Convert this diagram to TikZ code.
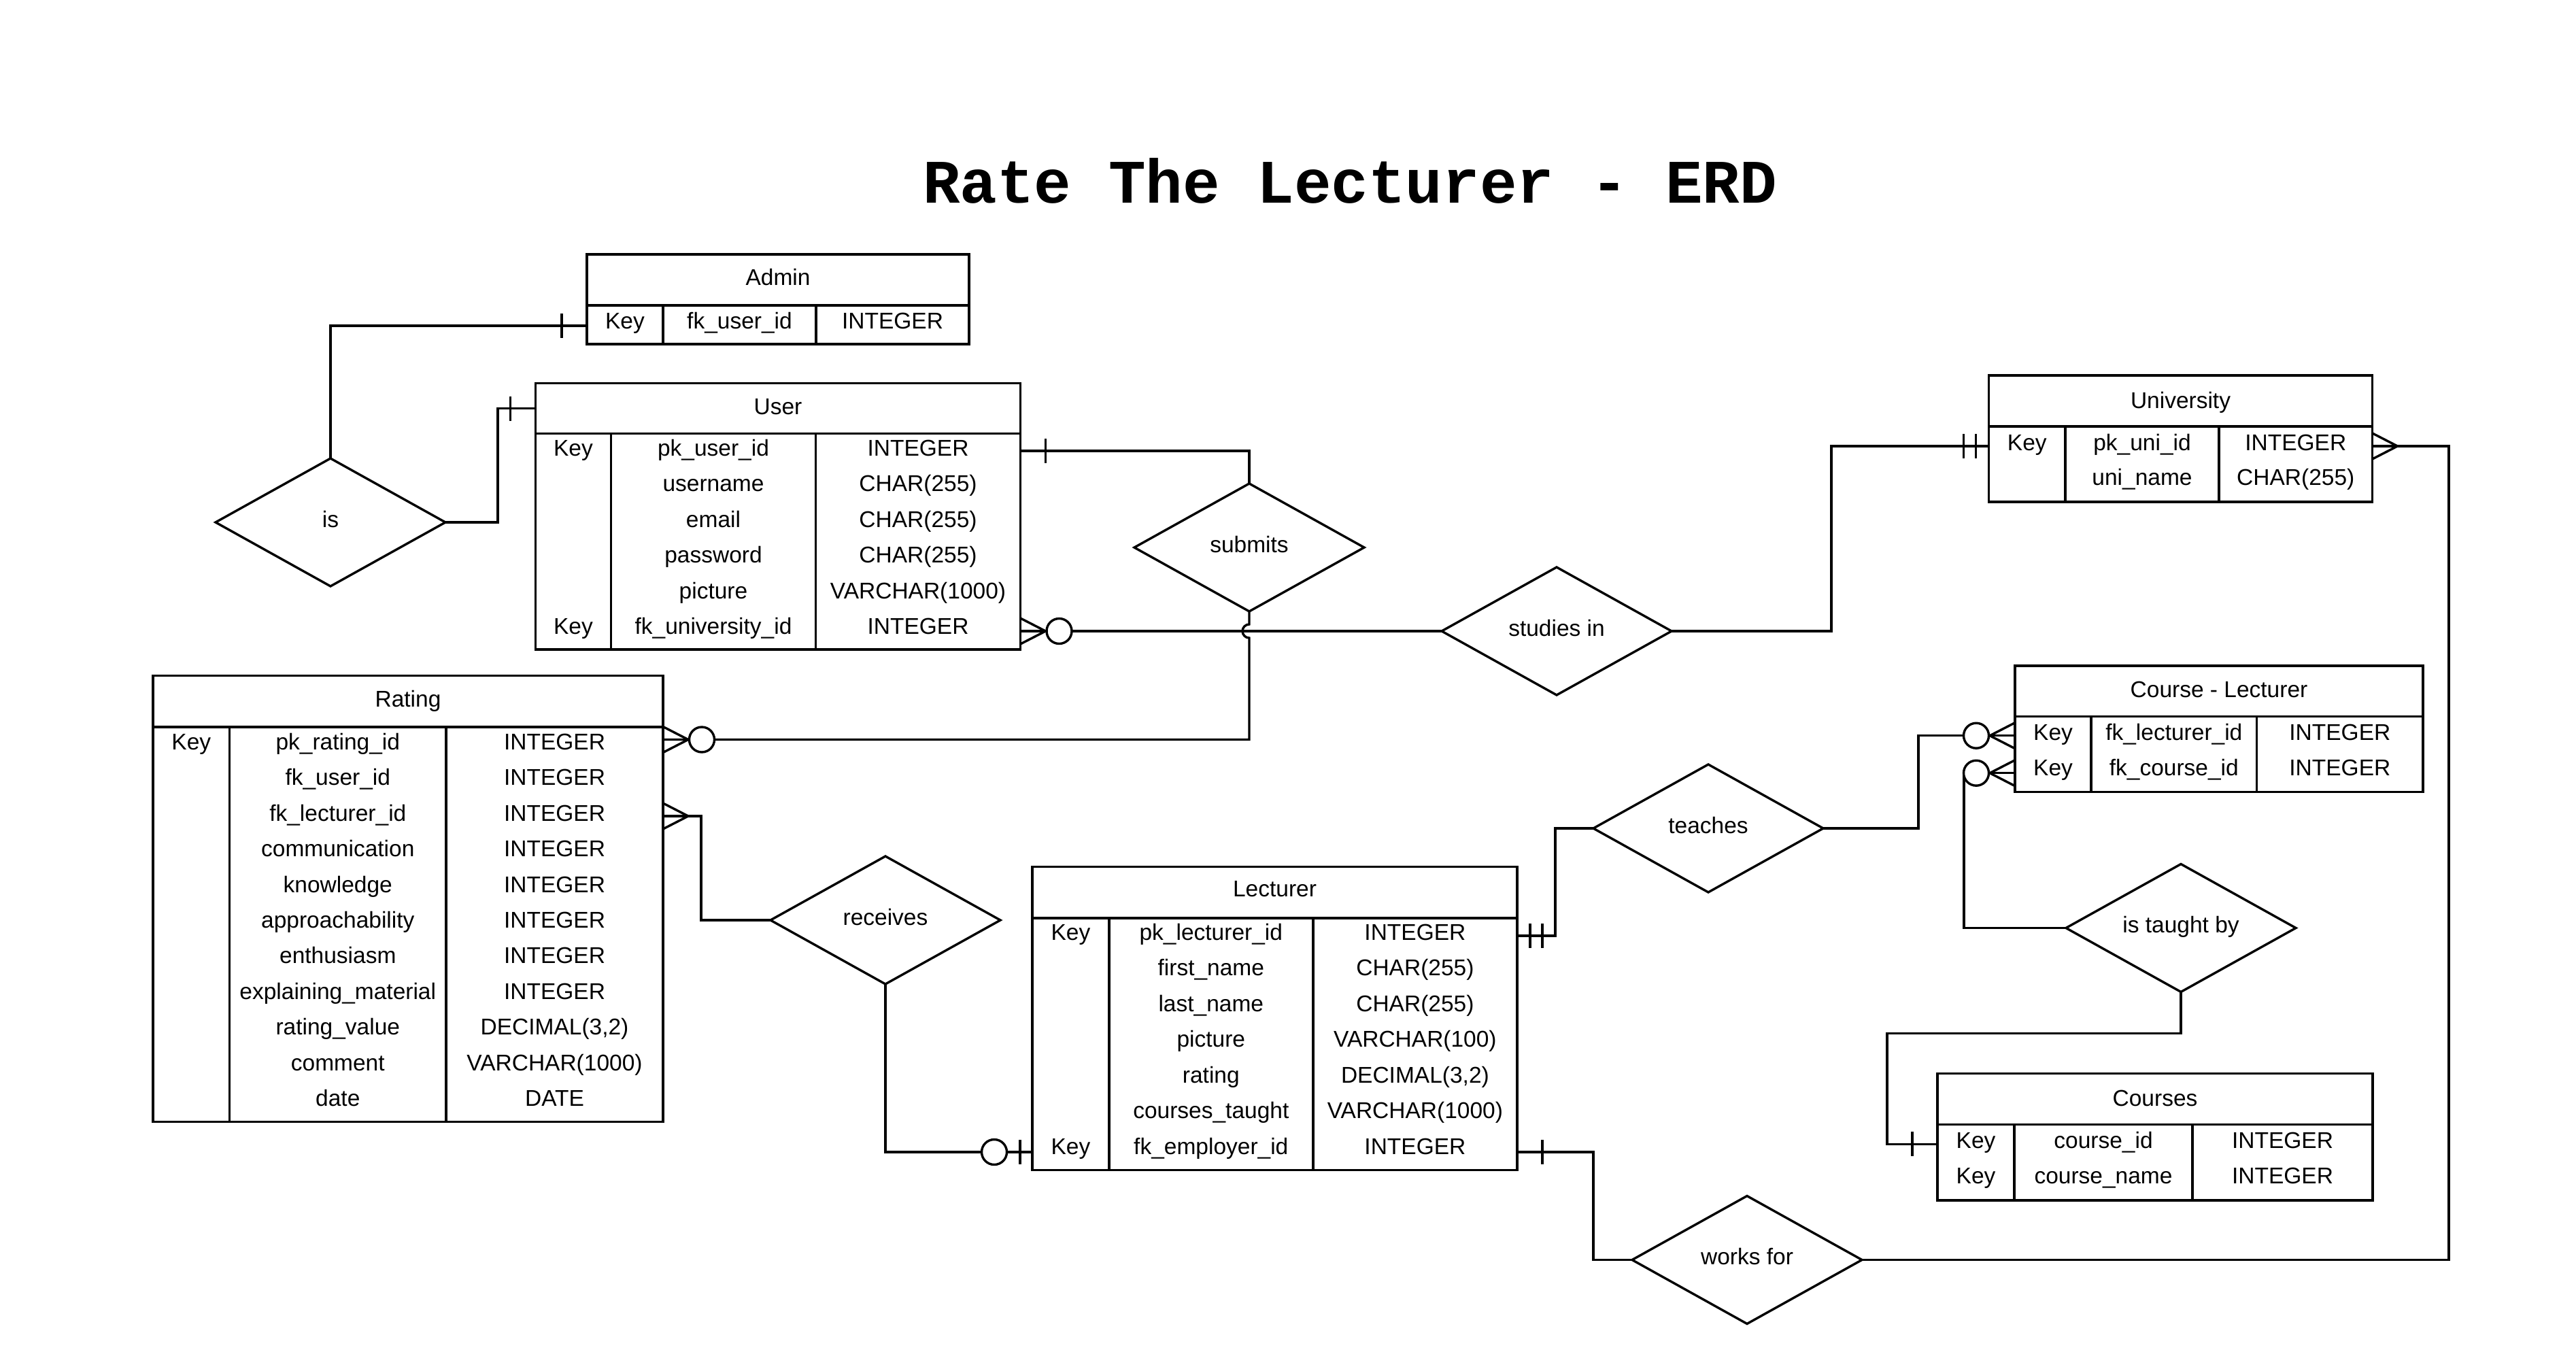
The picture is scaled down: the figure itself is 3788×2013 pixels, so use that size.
\documentclass[tikz,border=0pt]{standalone}
\usepackage{fontspec}
\setmainfont{Liberation Sans}
\newfontfamily\titlefont{Liberation Mono}
\usetikzlibrary{shapes.geometric}
\tikzset{
  tbl/.style={draw, line width=3.4pt, inner sep=0pt, outer sep=0pt},
  tblin/.style={line width=3.4pt},
  cell/.style={font=\fontsize{33.5pt}{40pt}\selectfont, inner sep=0pt, outer sep=0pt, text height=24pt, text depth=0pt},
  conn/.style={line width=3.4pt},
  rel/.style={draw, diamond, line width=3.4pt, minimum width=338pt, minimum height=188pt, inner sep=0pt, outer sep=0pt, aspect=1.8, font=\fontsize{33.5pt}{40pt}\selectfont, text height=24pt, text depth=10pt},
  mkone/.pic={\draw[conn] (37,-18) -- (37,18);},
  mkmandone/.pic={\draw[conn] (19,-18) -- (19,18); \draw[conn] (37,-18) -- (37,18);},
  mkcrow/.pic={\draw[conn] (0,0) -- (37,0); \draw[conn] (0,-19) -- (37,0) -- (0,19);},
  mkzeromany/.pic={\draw[conn] (0,0) -- (57,0); \draw[conn] (0,-19) -- (37,0) -- (0,19); \draw[conn, fill=white] (57,0) circle[radius=18.5pt];},
  mkzeroone/.pic={\draw[conn] (0,0) -- (56,0); \draw[conn] (18,-18) -- (18,18); \draw[conn, fill=white] (56,0) circle[radius=18.5pt];}
}
\begin{document}
\begin{tikzpicture}[x=1pt, y=-1pt]
\fill[white] (0,0) rectangle (3788,2013);
\useasboundingbox (0,0) rectangle (3788,2013);

% Title
\node[font=\titlefont\bfseries\fontsize{91pt}{100pt}\selectfont, anchor=base, inner sep=0pt] (title) at (1985,298) {Rate The Lecturer - ERD};

% ---------------- Admin
\node[tbl, minimum width=562pt, minimum height=132pt] (admin) at (1144,440) {};
\draw[tblin] (863,449) -- (1425,449) (975,449) -- (975,506) (1200,449) -- (1200,506);
\node[cell] (admin-h) at (1144,407) {Admin};
\node[cell] (admin-k1) at (919,471) {Key};
\node[cell] (admin-n1) at (1087.5,471) {fk\_user\_id};
\node[cell] (admin-t1) at (1312.5,471) {INTEGER};

% ---------------- User
\node[tbl, minimum width=713pt, minimum height=391.5pt] (user) at (1144,759.25) {};
\draw[tblin] (787.5,637.5) -- (1500.5,637.5) (898.6,637.5) -- (898.6,955) (1199.6,637.5) -- (1199.6,955);
\node[cell] (user-h) at (1144,597) {User};
\node[cell] (user-k1) at (843,658.4) {Key};
\node[cell] (user-n1) at (1049,658.4) {pk\_user\_id};
\node[cell] (user-t1) at (1350,658.4) {INTEGER};
\node[cell] (user-n2) at (1049,710.8) {username};
\node[cell] (user-t2) at (1350,710.8) {CHAR(255)};
\node[cell] (user-n3) at (1049,763.2) {email};
\node[cell] (user-t3) at (1350,763.2) {CHAR(255)};
\node[cell] (user-n4) at (1049,815.6) {password};
\node[cell] (user-t4) at (1350,815.6) {CHAR(255)};
\node[cell] (user-n5) at (1049,868) {picture};
\node[cell] (user-t5) at (1350,868) {VARCHAR(1000)};
\node[cell] (user-k6) at (843,920.4) {Key};
\node[cell] (user-n6) at (1049,920.4) {fk\_university\_id};
\node[cell] (user-t6) at (1350,920.4) {INTEGER};

% ---------------- Rating
\node[tbl, minimum width=750pt, minimum height=656pt] (rating) at (600,1321.6) {};
\draw[tblin] (225,1069) -- (975,1069) (337.6,1069) -- (337.6,1649.6) (656,1069) -- (656,1649.6);
\node[cell] (rating-h) at (600,1027) {Rating};
\node[cell] (rating-k1) at (281.3,1090.5) {Key};
\node[cell] (rating-n1) at (496.8,1090.5) {pk\_rating\_id};
\node[cell] (rating-t1) at (815.5,1090.5) {INTEGER};
\node[cell] (rating-n2) at (496.8,1142.9) {fk\_user\_id};
\node[cell] (rating-t2) at (815.5,1142.9) {INTEGER};
\node[cell] (rating-n3) at (496.8,1195.3) {fk\_lecturer\_id};
\node[cell] (rating-t3) at (815.5,1195.3) {INTEGER};
\node[cell] (rating-n4) at (496.8,1247.7) {communication};
\node[cell] (rating-t4) at (815.5,1247.7) {INTEGER};
\node[cell] (rating-n5) at (496.8,1300.1) {knowledge};
\node[cell] (rating-t5) at (815.5,1300.1) {INTEGER};
\node[cell] (rating-n6) at (496.8,1352.5) {approachability};
\node[cell] (rating-t6) at (815.5,1352.5) {INTEGER};
\node[cell] (rating-n7) at (496.8,1404.9) {enthusiasm};
\node[cell] (rating-t7) at (815.5,1404.9) {INTEGER};
\node[cell] (rating-n8) at (496.8,1457.3) {explaining\_material};
\node[cell] (rating-t8) at (815.5,1457.3) {INTEGER};
\node[cell] (rating-n9) at (496.8,1509.7) {rating\_value};
\node[cell] (rating-t9) at (815.5,1509.7) {DECIMAL(3,2)};
\node[cell] (rating-n10) at (496.8,1562.1) {comment};
\node[cell] (rating-t10) at (815.5,1562.1) {VARCHAR(1000)};
\node[cell] (rating-n11) at (496.8,1614.5) {date};
\node[cell] (rating-t11) at (815.5,1614.5) {DATE};

% ---------------- Lecturer
\node[tbl, minimum width=713pt, minimum height=446pt] (lect) at (1874.5,1497.45) {};
\draw[tblin] (1518,1350) -- (2231,1350) (1630.8,1350) -- (1630.8,1720.4) (1930.8,1350) -- (1930.8,1720.4);
\node[cell] (lect-h) at (1874.5,1306) {Lecturer};
\node[cell] (lect-k1) at (1574.4,1370) {Key};
\node[cell] (lect-n1) at (1780.8,1370) {pk\_lecturer\_id};
\node[cell] (lect-t1) at (2080.9,1370) {INTEGER};
\node[cell] (lect-n2) at (1780.8,1422.5) {first\_name};
\node[cell] (lect-t2) at (2080.9,1422.5) {CHAR(255)};
\node[cell] (lect-n3) at (1780.8,1475) {last\_name};
\node[cell] (lect-t3) at (2080.9,1475) {CHAR(255)};
\node[cell] (lect-n4) at (1780.8,1527.5) {picture};
\node[cell] (lect-t4) at (2080.9,1527.5) {VARCHAR(100)};
\node[cell] (lect-n5) at (1780.8,1580) {rating};
\node[cell] (lect-t5) at (2080.9,1580) {DECIMAL(3,2)};
\node[cell] (lect-n6) at (1780.8,1632.5) {courses\_taught};
\node[cell] (lect-t6) at (2080.9,1632.5) {VARCHAR(1000)};
\node[cell] (lect-k7) at (1574.4,1685) {Key};
\node[cell] (lect-n7) at (1780.8,1685) {fk\_employer\_id};
\node[cell] (lect-t7) at (2080.9,1685) {INTEGER};

% ---------------- University
\node[tbl, minimum width=564pt, minimum height=186pt] (uni) at (3206.5,645) {};
\draw[tblin] (2924.5,627) -- (3488.5,627) (3037,627) -- (3037,738) (3263,627) -- (3263,738);
\node[cell] (uni-h) at (3206.5,588) {University};
\node[cell] (uni-k1) at (2980.75,650) {Key};
\node[cell] (uni-n1) at (3150,650) {pk\_uni\_id};
\node[cell] (uni-t1) at (3375.75,650) {INTEGER};
\node[cell] (uni-n2) at (3150,701.5) {uni\_name};
\node[cell] (uni-t2) at (3375.75,701.5) {CHAR(255)};

% ---------------- Course - Lecturer
\node[tbl, minimum width=600pt, minimum height=185.4pt] (cl) at (3263,1071.7) {};
\draw[tblin] (2963,1053.5) -- (3563,1053.5) (3075,1053.5) -- (3075,1164.4) (3318.6,1053.5) -- (3318.6,1164.4);
\node[cell] (cl-h) at (3263,1013) {Course - Lecturer};
\node[cell] (cl-k1) at (3019,1076) {Key};
\node[cell] (cl-n1) at (3196.8,1076) {fk\_lecturer\_id};
\node[cell] (cl-t1) at (3440.8,1076) {INTEGER};
\node[cell] (cl-k2) at (3019,1128.5) {Key};
\node[cell] (cl-n2) at (3196.8,1128.5) {fk\_course\_id};
\node[cell] (cl-t2) at (3440.8,1128.5) {INTEGER};

% ---------------- Courses
\node[tbl, minimum width=640pt, minimum height=186.3pt] (courses) at (3169,1671.85) {};
\draw[tblin] (2849,1653.6) -- (3489,1653.6) (2962,1653.6) -- (2962,1765) (3224,1653.6) -- (3224,1765);
\node[cell] (courses-h) at (3169,1614) {Courses};
\node[cell] (courses-k1) at (2905.5,1676) {Key};
\node[cell] (courses-n1) at (3093,1676) {course\_id};
\node[cell] (courses-t1) at (3356.5,1676) {INTEGER};
\node[cell] (courses-k2) at (2905.5,1728.5) {Key};
\node[cell] (courses-n2) at (3093,1728.5) {course\_name};
\node[cell] (courses-t2) at (3356.5,1728.5) {INTEGER};

% ---------------- Relationships
\node[rel] (is) at (486,768) {is};
\node[rel] (submits) at (1837,805) {submits};
\node[rel] (studies) at (2289,928) {studies in};
\node[rel] (receives) at (1302,1353) {receives};
\node[rel] (teaches) at (2512,1218) {teaches};
\node[rel] (istaught) at (3207,1364.5) {is taught by};
\node[rel] (worksfor) at (2569,1852.5) {works for};

% ---------------- Connection ports on the table rows
\coordinate (p-admin) at ([yshift=-8pt]admin.west |- admin-k1);
\coordinate (p-userh) at ([yshift=-37pt]user.north west);
\coordinate (p-userpk) at ([yshift=-4.6pt]user.east |- user-k1);
\coordinate (p-userfk) at (user.east |- studies.west);
\coordinate (p-ratingpk) at ([yshift=3pt]rating.east |- rating-k1);
\coordinate (p-ratingfk) at ([yshift=-4.7pt]rating.east |- rating-n3);
\coordinate (p-lectpkL) at ([yshift=-9pt]lect.west |- lect-k7);
\coordinate (p-lectpk) at ([yshift=-6pt]lect.east |- lect-k1);
\coordinate (p-lectfk) at ([yshift=-9pt]lect.east |- lect-k7);
\coordinate (p-uniW) at ([yshift=-6pt]uni.west |- uni-k1);
\coordinate (p-uniE) at ([yshift=-6pt]uni.east |- uni-k1);
\coordinate (p-cl1) at ([yshift=-5.7pt]cl.west |- cl-k1);
\coordinate (p-cl2) at ([yshift=-8.2pt]cl.west |- cl-k2);
\coordinate (p-courses) at ([yshift=-6.4pt]courses.west |- courses-k1);

% ---------------- Connectors
% Admin - is
\draw[conn] (p-admin) -| (is.north);
\pic[xscale=-1] at (p-admin) {mkone};
% is - User
\draw[conn] (is.east) -- ++(77,0) |- (p-userh);
\pic[xscale=-1] at (p-userh) {mkone};
% User - submits
\draw[conn] (p-userpk) -| (submits.north);
\pic at (p-userpk) {mkone};
% User - studies in
\draw[conn] (p-userfk) -- (studies.west);
\pic at (p-userfk) {mkzeromany};
% submits - Rating (with line jump)
\coordinate (jmp) at (submits.south |- studies.west);
\draw[conn] (submits.south) -- ([yshift=10pt]jmp) arc[start angle=90, end angle=270, radius=10pt] -- (submits.south |- p-ratingpk) -- (p-ratingpk);
\pic at (p-ratingpk) {mkzeromany};
% Rating - receives
\draw[conn] (p-ratingfk) -- ++(56,0) |- (receives.west);
\pic at (p-ratingfk) {mkcrow};
% receives - Lecturer
\draw[conn] (receives.south) |- (p-lectpkL);
\pic[xscale=-1] at (p-lectpkL) {mkzeroone};
% Lecturer - teaches
\draw[conn] (p-lectpk) -- ++(56,0) |- (teaches.west);
\pic at (p-lectpk) {mkmandone};
% Lecturer - works for
\draw[conn] (p-lectfk) -- ++(112,0) |- (worksfor.west);
\pic at (p-lectfk) {mkone};
% works for - University
\draw[conn] (worksfor.east) -- ++(863,0) |- (p-uniE);
\pic at (p-uniE) {mkcrow};
% studies in - University
\draw[conn] (studies.east) -- ++(235,0) |- (p-uniW);
\pic[xscale=-1] at (p-uniW) {mkmandone};
% teaches - Course-Lecturer
\draw[conn] (teaches.east) -- ++(140,0) |- (p-cl1);
\pic[xscale=-1] at (p-cl1) {mkzeromany};
% is taught by - Course-Lecturer
\draw[conn] (istaught.west) -| ([xshift=-75pt]p-cl2);
\pic[xscale=-1] at (p-cl2) {mkzeromany};
% is taught by - Courses
\draw[conn] (istaught.south) -- ++(0,61) -| ([xshift=-74pt]p-courses) -- (p-courses);
\pic[xscale=-1] at (p-courses) {mkone};
\end{tikzpicture}
\end{document}
